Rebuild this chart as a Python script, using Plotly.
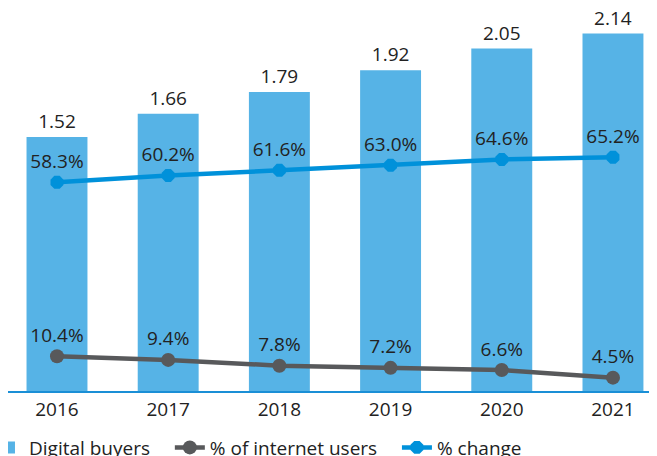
import plotly.graph_objects as go

years = ["2016", "2017", "2018", "2019", "2020", "2021"]
digital_buyers = [1.52, 1.66, 1.79, 1.92, 2.05, 2.14]
pct_internet_users = [58.3, 60.2, 61.6, 63.0, 64.6, 65.2]
pct_change = [10.4, 9.4, 7.8, 7.2, 6.6, 4.5]

FONT = "Open Sans"
TXT = "#222222"
PAD = "\u00a0\u00a0\u00a0"

fig = go.Figure()
fig.add_trace(go.Bar(
    x=years, y=digital_buyers, name="Digital buyers" + PAD,
    marker=dict(color="#56B3E6", line=dict(width=0)),
    width=0.548,
    text=[f"{v:.2f}" for v in digital_buyers], textposition="outside",
    textfont=dict(size=19, color=TXT, family=FONT),
    cliponaxis=False,
))
fig.add_trace(go.Scatter(
    x=years, y=pct_change, name="% of internet users" + PAD, yaxis="y2",
    mode="lines+markers+text",
    line=dict(color="#58595B", width=4.5),
    marker=dict(color="#58595B", size=14, symbol="circle"),
    text=[f"{v:.1f}%" for v in pct_change], textposition="top center",
    textfont=dict(size=19, color=TXT, family=FONT),
    cliponaxis=False,
))
fig.add_trace(go.Scatter(
    x=years, y=pct_internet_users, name="% change", yaxis="y2",
    mode="lines+markers+text",
    line=dict(color="#0091DA", width=4.5),
    marker=dict(color="#0091DA", size=14, symbol="octagon"),
    text=[f"{v:.1f}%" for v in pct_internet_users], textposition="top center",
    textfont=dict(size=19, color=TXT, family=FONT),
    cliponaxis=False,
))

fig.update_layout(
    width=649, height=448,
    margin=dict(l=0, r=0, t=0, b=65, autoexpand=False),
    paper_bgcolor="white", plot_bgcolor="white",
    font=dict(family=FONT, size=19, color=TXT),
    showlegend=True,
    legend=dict(orientation="h", x=-0.0293, xanchor="left", y=-0.098, yanchor="top",
                font=dict(size=19, color=TXT, family=FONT),
                itemwidth=30, traceorder="normal"),
    xaxis=dict(type="category", range=[-0.4406, 5.396], showgrid=False,
               showline=True, linecolor="#1a8fd6", linewidth=2,
               ticks="", tickfont=dict(size=19, color=TXT, family=FONT)),
    yaxis=dict(range=[0, 2.293], visible=False, showgrid=False),
    yaxis2=dict(range=[0.83, 106.3], overlaying="y", visible=False, showgrid=False),
)

fig.write_html("out.html")
